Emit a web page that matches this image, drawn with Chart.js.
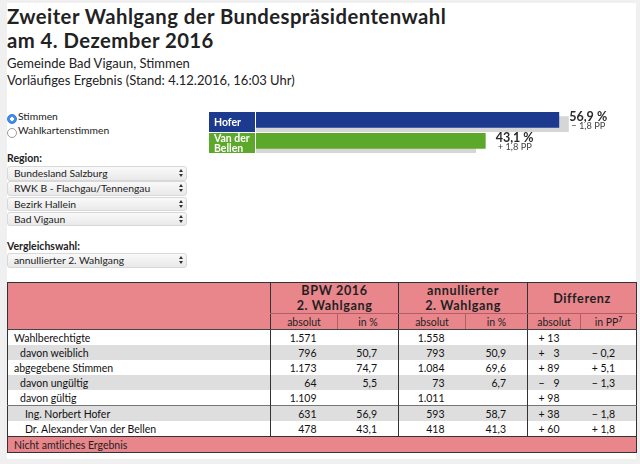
<!DOCTYPE html>
<html lang="de">
<head>
<meta charset="utf-8">
<title>Bundespräsidentenwahl 2016 – Bad Vigaun</title>
<script src="https://cdn.jsdelivr.net/npm/chart.js@4/dist/chart.umd.min.js"></script>
<style>
  html, body { margin: 0; padding: 0; width: 640px; height: 464px; overflow: hidden; }
  body { background: #f0f0f0; font-family: Lato, sans-serif; color: #222; position: relative; }
  .abs { position: absolute; }
  #panel { left: 7px; top: 3px; width: 629px; height: 456px; background: #fff; }
  .title { left: 7px; margin: 0; font: bold 20.3px/24.4px Lato, sans-serif; letter-spacing: 0.45px; color: #222; white-space: nowrap; }
  .sub { left: 7px; font-size: 13px; line-height: 15.6px; color: #222; white-space: nowrap; }
  .small { font-size: 10.3px; line-height: 13px; color: #222; white-space: nowrap; }
  .lbl { font-weight: bold; font-size: 10.5px; }
  .radio { width: 8px; height: 8px; border-radius: 50%; border: 1px solid #9a9a9a; background: #fff; }
  .radio.on { border-color: #3477d6; background: radial-gradient(circle, #fff 0 1.6px, #3d8ff0 2px); }
  .sel { left: 7px; width: 178px; height: 12.5px; border: 1px solid #d8d8d8; border-radius: 3px;
         background: linear-gradient(#f9f9f9, #e9e9e9); font-size: 10.3px; line-height: 13px; color: #222; }
  .sel span { position: absolute; left: 6px; top: 0; white-space: nowrap; }
  .sel i { position: absolute; right: 3px; width: 0; height: 0; border-left: 2.5px solid transparent; border-right: 2.5px solid transparent; }
  .sel i.up { top: 2px; border-bottom: 3.5px solid #333; }
  .sel i.dn { top: 7px; border-top: 3.5px solid #333; }
  #chartBox { left: 209px; top: 100px; width: 420px; height: 60px; }
  table { position: absolute; left: 7px; top: 282px; width: 629px; border-collapse: collapse; table-layout: fixed;
          border: 1px solid #333; font-size: 10.5px; color: #111; }
  td, th { padding: 0; line-height: 12px; white-space: nowrap; overflow: hidden; }
  th { background: #e8868c; font-weight: bold; color: #1f1f1f; }
  th div { height: 15.1px; line-height: 15.1px; }
  thead tr.h1 th { font-size: 12.6px; letter-spacing: 0.6px; height: 30px; border-bottom: 1px solid #b35d64; }
  thead tr.h2 th { font-size: 10.5px; font-weight: normal; height: 15px; border-bottom: 1px solid #444; }
  thead th.g, tbody td.g { border-left: 1px solid #333; }
  thead th.s { border-left: 1px solid #b35d64; }
  tbody td { height: 15px; text-align: right; padding-right: 21px; }
  tbody td.t { text-align: left; padding-right: 0; }
  tbody tr.alt td { background: #dedede; }
  tbody tr.sep td { border-top: 1px solid #777; }
  tfoot td { background: #e8868c; height: 15px; border-top: 1px solid #333; padding-left: 6px; color: #222; }
  sup { font-size: 7px; line-height: 0; vertical-align: 4px; }
</style>
</head>
<body>
<div id="panel" class="abs"></div>

<div class="abs title" style="top:4px">Zweiter Wahlgang der Bundespräsidentenwahl</div>
<div class="abs title" style="top:28.4px">am 4. Dezember 2016</div>
<div class="abs sub" style="top:56.2px">Gemeinde Bad Vigaun, Stimmen</div>
<div class="abs sub" style="top:73.2px">Vorläufiges Ergebnis (Stand: 4.12.2016, 16:03 Uhr)</div>

<div class="abs radio on" style="left:7px;top:114px"></div>
<div class="abs small" style="left:18px;top:109.5px">Stimmen</div>
<div class="abs radio" style="left:7px;top:127.5px"></div>
<div class="abs small" style="left:18px;top:123.5px">Wahlkartenstimmen</div>

<div class="abs small lbl" style="left:7px;top:151.5px">Region:</div>
<div id="regions"></div>
<div class="abs small lbl" style="left:7px;top:239.5px">Vergleichswahl:</div>
<div id="compare"></div>

<div id="chartBox" class="abs"><canvas id="chart" width="420" height="60"></canvas></div>

<table id="tab">
  <colgroup>
    <col style="width:263px"><col style="width:67px"><col style="width:61px">
    <col style="width:67px"><col style="width:62px"><col style="width:53px"><col style="width:56px">
  </colgroup>
  <thead>
    <tr class="h1">
      <th rowspan="2" style="border-bottom:1px solid #444"></th>
      <th colspan="2" class="g"><div>BPW 2016</div><div>2. Wahlgang</div></th>
      <th colspan="2" class="g"><div>annullierter</div><div>2. Wahlgang</div></th>
      <th colspan="2" class="g"><div>Differenz</div></th>
    </tr>
    <tr class="h2">
      <th class="g">absolut</th><th class="s">in %</th>
      <th class="g">absolut</th><th class="s">in %</th>
      <th class="g">absolut</th><th class="s">in PP<sup>7</sup></th>
    </tr>
  </thead>
  <tbody id="rows"></tbody>
  <tfoot><tr><td colspan="7">Nicht amtliches Ergebnis</td></tr></tfoot>
</table>

<script>
// Balken: Stimmenanteil in %
const candidates = ["Hofer", "Van der Bellen"];
const shareBpw = [56.9, 43.1];
const shareAnnulled = [58.7, 41.3];
const ppDiff = [-1.8, 1.8];
const partyColors = ["#1c3a8e", "#5ca82a"];

// Auswahllisten
const regionOptions = ["Bundesland Salzburg", "RWK B - Flachgau/Tennengau", "Bezirk Hallein", "Bad Vigaun"];
const compareOption = "annullierter 2. Wahlgang";

// Tabelle
const rowLabels = ["Wahlberechtigte", "davon weiblich", "abgegebene Stimmen", "davon ungültig",
                   "davon gültig", "Ing. Norbert Hofer", "Dr. Alexander Van der Bellen"];
const rowLevels = [0, 1, 0, 1, 1, 2, 2];
const bpwAbs = [1571, 796, 1173, 64, 1109, 631, 478];
const bpwPct = [null, 50.7, 74.7, 5.5, null, 56.9, 43.1];
const annAbs = [1558, 793, 1084, 73, 1011, 593, 418];
const annPct = [null, 50.9, 69.6, 6.7, null, 58.7, 41.3];
const diffAbs = [13, 3, 89, -9, 98, 38, 60];
const diffPP = [null, -0.2, 5.1, -1.3, null, -1.8, 1.8];

const fmtInt = n => String(n).replace(/\B(?=(\d{3})+(?!\d))/g, ".");
const fmtDec = v => v == null ? "" : v.toFixed(1).replace(".", ",");
const sign = v => v < 0 ? "\u2212 " : "+ ";
const fmtDiffAbs = v => sign(v) + (Math.abs(v) < 10 ? "\u2007" : "") + Math.abs(v);
const fmtDiffPP = v => v == null ? "" : sign(v) + fmtDec(Math.abs(v));

function selectBox(text, top) {
  return `<div class="abs sel" style="top:${top}px"><span>${text}</span><i class="up"></i><i class="dn"></i></div>`;
}
document.getElementById("regions").innerHTML =
  regionOptions.map((r, i) => selectBox(r, 166 + i * 15.3)).join("");
document.getElementById("compare").innerHTML = selectBox(compareOption, 253);

const pads = [6, 12, 17];
document.getElementById("rows").innerHTML = rowLabels.map((label, i) => {
  const cls = [i % 2 ? "alt" : "", i === 5 ? "sep" : ""].join(" ");
  return `<tr class="${cls}">
    <td class="t" style="padding-left:${pads[rowLevels[i]]}px">${label}</td>
    <td class="g">${fmtInt(bpwAbs[i])}</td><td>${fmtDec(bpwPct[i])}</td>
    <td class="g">${fmtInt(annAbs[i])}</td><td>${fmtDec(annPct[i])}</td>
    <td class="g">${fmtDiffAbs(diffAbs[i])}</td><td>${fmtDiffPP(diffPP[i])}</td>
  </tr>`;
}).join("");

// Beschriftung: farbige Namensfelder links, Prozentwerte rechts
const labelPlugin = {
  id: "wahlLabels",
  afterDraw(chart) {
    const ctx = chart.ctx;
    const yScale = chart.scales.y;
    const bars = chart.getDatasetMeta(0).data;
    ctx.save();
    candidates.forEach((name, i) => {
      const cy = yScale.getPixelForValue(i);
      ctx.fillStyle = partyColors[i];
      ctx.fillRect(0, cy - 10, 46, 20);
      ctx.fillStyle = "#fff";
      ctx.font = "bold 10.5px Lato";
      ctx.textBaseline = "alphabetic";
      ctx.textAlign = "left";
      if (ctx.measureText(name).width > 40) {
        const k = name.lastIndexOf(" ");
        ctx.fillText(name.slice(0, k), 5, cy - 1);
        ctx.fillText(name.slice(k + 1), 5, cy + 9);
      } else {
        ctx.fillText(name, 5, cy + 3.7);
      }

      const bar = bars[i];
      const top = bar.y - bar.height / 2;
      ctx.fillStyle = "#2a2a2a";
      ctx.font = "bold 12.5px Lato";
      ctx.fillText(fmtDec(shareBpw[i]) + " %", bar.x + 10, top + 9.5);
      ctx.fillStyle = "#444";
      ctx.font = "9.3px Lato";
      ctx.fillText(fmtDiffPP(ppDiff[i]) + " PP", bar.x + 12, top + 17.5);
    });
    ctx.restore();
  }
};

Chart.defaults.font.family = "Lato";
new Chart(document.getElementById("chart"), {
  type: "bar",
  data: {
    labels: candidates,
    datasets: [
      { label: "BPW 2016", data: shareBpw, backgroundColor: partyColors,
        categoryPercentage: 0.405, barPercentage: 3.76 },
      { label: "annullierter 2. Wahlgang", data: shareAnnulled, backgroundColor: "#d6d6d6",
        categoryPercentage: 0.405, barPercentage: 3.76 }
    ]
  },
  options: {
    indexAxis: "y",
    responsive: false,
    animation: false,
    events: [],
    layout: { padding: { left: 47, right: 0, top: 11.5, bottom: 6.5 } },
    scales: {
      x: { display: false, min: 0, max: 70 },
      y: { display: false }
    },
    plugins: { legend: { display: false }, tooltip: { enabled: false } }
  },
  plugins: [labelPlugin]
});
</script>
</body>
</html>
